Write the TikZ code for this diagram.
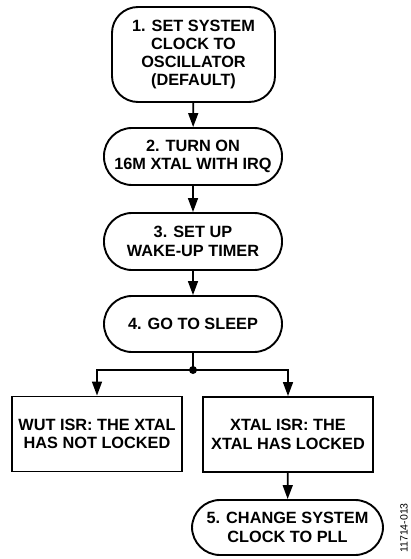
\documentclass[tikz,border=0pt]{standalone}
\usepackage{fontspec}
\setmainfont{Liberation Sans}
\usetikzlibrary{arrows.meta}
\begin{document}
\begin{tikzpicture}[x=1pt,y=-1pt,
  box/.style={draw, line width=1.9pt, align=center, inner sep=0pt,
    font=\fontsize{16.3}{18.3}\selectfont\bfseries},
  pill/.style={box, rounded corners=28pt, minimum height=57pt},
  rectbox/.style={box, minimum width=170pt, minimum height=75pt},
  flow/.style={line width=1.6pt, -{Triangle[length=14pt,width=10pt]}},
  wire/.style={line width=1.6pt}]
\useasboundingbox (0,0) rectangle (410,559);

\node[box, rounded corners=26pt, minimum width=163pt, minimum height=95pt] (s1) at (193.5,54.5)
  {1. SET SYSTEM\\CLOCK TO\\OSCILLATOR\\(DEFAULT)};
\node[pill, minimum width=178pt] (s2) at (193,156.5) {2. TURN ON\\16M XTAL WITH IRQ};
\node[pill, minimum width=178pt] (s3) at (193,241.5) {3. SET UP\\WAKE-UP TIMER};
\node[pill, minimum width=178pt, minimum height=56pt] (s4) at (193,324) {4. GO TO SLEEP};
\node[rectbox] (wut) at (97,434) {WUT ISR: THE XTAL\\HAS NOT LOCKED};
\node[rectbox] (xtal) at (288,434.5) {XTAL ISR: THE\\XTAL HAS LOCKED};
\node[pill, minimum width=191pt, minimum height=55pt] (s5) at (287.5,527.5) {5. CHANGE SYSTEM\\CLOCK TO PLL};

\coordinate (j) at (193,370);
\fill (j) circle (4pt);

\draw[flow] (s1) -- (s2);
\draw[flow] (s2) -- (s3);
\draw[flow] (s3) -- (s4);
\draw[wire] (s4) -- (j);
\draw[flow] (j) -| (wut);
\draw[flow] (j) -| (xtal);
\draw[flow] (xtal) -- (s5);

\node[rotate=90, font=\fontsize{10.5}{12}\selectfont] (tag) at (404,528) {11714-013};
\end{tikzpicture}
\end{document}
